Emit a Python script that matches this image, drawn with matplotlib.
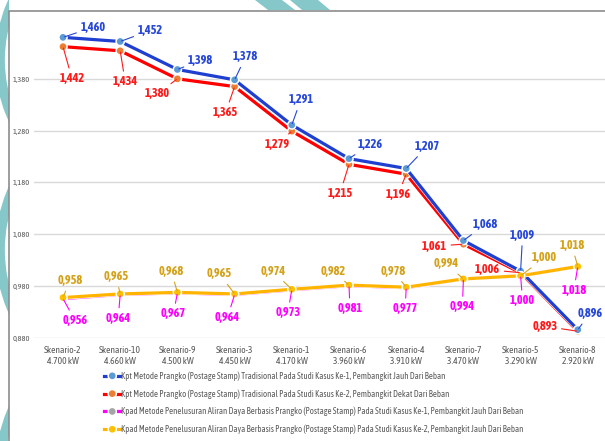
import matplotlib
matplotlib.use("Agg")
import matplotlib.pyplot as plt
import matplotlib.patheffects as pe
from matplotlib.patches import Arc, Rectangle, Polygon
import numpy as np

plt.rcParams["font.family"] = ["Asap Condensed", "Archivo Narrow", "DejaVu Sans"]

# ---- data ----
scenarios = ["Skenario-2", "Skenario-10", "Skenario-9", "Skenario-3", "Skenario-1",
             "Skenario-6", "Skenario-4", "Skenario-7", "Skenario-5", "Skenario-8"]
loads = ["4.700 kW", "4.660 kW", "4.500 kW", "4.450 kW", "4.170 kW",
         "3.960 kW", "3.910 kW", "3.470 kW", "3.290 kW", "2.920 kW"]
kpt_case1 = [1.460, 1.452, 1.398, 1.378, 1.291, 1.226, 1.207, 1.068, 1.009, 0.896]
kpt_case2 = [1.442, 1.434, 1.380, 1.365, 1.279, 1.215, 1.196, 1.061, 1.006, 0.893]
kpad_case1 = [0.956, 0.964, 0.967, 0.964, 0.973, 0.981, 0.977, 0.994, 1.000, 1.018]
kpad_case2 = [0.958, 0.965, 0.968, 0.965, 0.974, 0.982, 0.978, 0.994, 1.000, 1.018]
yticks = [0.880, 0.980, 1.080, 1.180, 1.280, 1.380]

labels = [
    "Kpt Metode Prangko (Postage Stamp) Tradisional Pada Studi Kasus Ke-1, Pembangkit Jauh Dari Beban",
    "Kpt Metode Prangko (Postage Stamp) Tradisional Pada Studi Kasus Ke-2, Pembangkit Dekat Dari Beban",
    "Kpad Metode Penelusuran Aliran Daya Berbasis Prangko (Postage Stamp) Pada Studi Kasus Ke-1, Pembangkit Jauh Dari Beban",
    "Kpad Metode Penelusuran Aliran Daya Berbasis Prangko (Postage Stamp) Pada Studi Kasus Ke-2, Pembangkit Jauh Dari Beban",
]

# label offsets in pixels (dx right, dy up)
off_b = [(30, 10), (30, 11), (23, 9), (11, 23), (9, 25), (21, 14), (21, 22), (22, 16), (2, 36), (12, 16)]
off_r = [(9, -32), (5, -31), (-20, -15), (-9, -26), (-15, -13), (-9, -29), (-8, -20), (-29, -2), (-33, 3), (-33, 5)]
off_m = [(12, -22), (-2, -24), (-4, -21), (-7, -23), (-4, -23), (1, -23), (-1, -21), (-1, -28), (2, -25), (-4, -24)]
off_o = [(7, 17), (-4, 17), (-6, 21), (-15, 20), (-19, 18), (-16, 14), (-13, 16), (-17, 15), (24, 18), (-6, 21)]

W, H = 605, 441
fig = plt.figure(figsize=(W / 100, H / 100), dpi=100)

# background decoration + chart frame (pixel coords)
bg = fig.add_axes([0, 0, 1, 1])
bg.set_xlim(0, W); bg.set_ylim(H, 0); bg.axis("off")
teal = "#86c7ca"
clip = Rectangle((0, 0), 8.5, H, transform=bg.transData)
for cx, cy, r in [(140, 60, 140), (150, 250, 150), (150, 470, 150)]:
    a = Arc((cx, cy), 2 * r, 2 * r, theta1=0, theta2=360, lw=7, color=teal)
    bg.add_patch(a)
    a.set_clip_path(clip)
bg.add_patch(Polygon([(255, 0), (282, 0), (295, 10), (268, 10)], color=teal, lw=0))
bg.add_patch(Polygon([(290, 0), (318, 0), (330, 10), (302, 10)], color=teal, lw=0))
bg.add_patch(Rectangle((8.5, 10.5), W, H, facecolor="white", edgecolor="#8c8c8c", lw=1.2))

# main axes
x0_px, x1_px = 34.4, 605
y_top_px, y_bot_px = 16.6, 338
ax = fig.add_axes([x0_px / W, 1 - y_bot_px / H, (x1_px - x0_px) / W, (y_bot_px - y_top_px) / H])
ax.patch.set_alpha(0)
x = np.arange(len(scenarios))
ax.set_xlim(-0.5, -0.5 + (x1_px - x0_px) / 57.2)
ax.set_ylim(0.88, 1.50)

series = [
    (kpt_case2, "#ff0000", "#ed7d31", "#ff1a1a", off_r, 3, labels[1]),
    (kpt_case1, "#1f3fd0", "#5b9bd5", "#2647d8", off_b, 4, labels[0]),
    (kpad_case1, "#ff00ff", "#a5a5a5", "#ff00ff", off_m, 5, labels[2]),
    (kpad_case2, "#ffb400", "#ffc000", "#d4a21a", off_o, 6, labels[3]),
]
handles = {}
for vals, lc, mc, tc, offs, z, lab in series:
    ln, = ax.plot(x, vals, color=lc, lw=2.3, marker="o", ms=3.8, mfc=mc, mec=mc,
                  zorder=z, label=lab, solid_joinstyle="miter",
                  path_effects=[pe.Stroke(linewidth=3.2, foreground="white"), pe.Normal()])
    handles[lab] = ln
    for xi, v, (dx, dy) in zip(x, vals, offs):
        ax.annotate(f"{v:.3f}".replace(".", ","), (xi, v), xytext=(dx, dy),
                    textcoords="offset pixels", ha="center", va="center",
                    fontsize=8.8, fontweight="bold", color=tc, zorder=10,
                    arrowprops=dict(arrowstyle="-", color=tc, lw=0.8, shrinkA=1, shrinkB=1))

ax.set_yticks(yticks)
ax.set_yticklabels([f"{t:.3f}".replace(".", ",") for t in yticks], fontsize=6, color="#595959")
ax.set_xticks(x)
ax.set_xticklabels([f"{s}\n{l}" for s, l in zip(scenarios, loads)], fontsize=6.8,
                   color="#595959", linespacing=1.3)
ax.tick_params(length=0, pad=6)
ax.tick_params(axis="y", pad=3)
ax.grid(axis="y", color="#d9d9d9", lw=1)
ax.set_axisbelow(True)
for s in ax.spines.values():
    s.set_visible(False)

leg = fig.legend([handles[l] for l in labels], labels, loc="upper left",
                 bbox_to_anchor=(100 / W, 1 - 367 / H), frameon=False, fontsize=6.3,
                 labelspacing=0.95, handlelength=1.8, handletextpad=0.1, borderpad=0)
for t in leg.get_texts():
    t.set_color("#595959")

fig.savefig("out.png", dpi=100)
